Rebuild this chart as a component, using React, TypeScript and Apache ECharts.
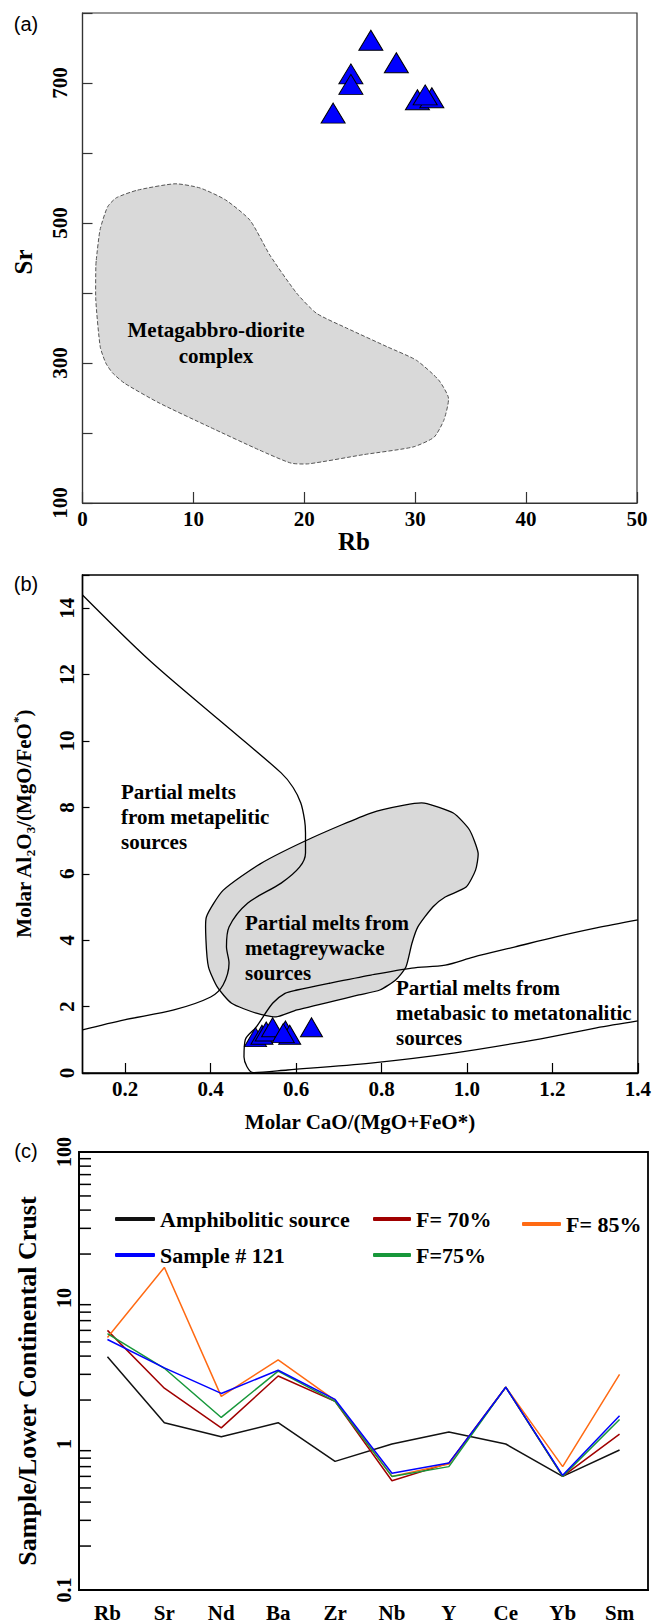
import React, { useEffect, useRef } from 'react';
import * as echarts from 'echarts';

const SERIF = '"Liberation Serif", "Times New Roman", serif';
const SANS = '"Liberation Sans", Arial, sans-serif';

// ---------- (a) Rb vs Sr ----------
const aSamples: [number, number][] = [
  [26.0, 761], [28.3, 729], [24.2, 713], [24.2, 698],
  [22.6, 657], [30.2, 676], [31.5, 679], [30.9, 683],
];
const aField: [number, number][] = [
  [1.24, 447], [1.58, 490], [2.26, 523], [3.05, 536], [4.97, 547], [8.35, 556],
  [10.6, 550], [12.9, 533], [15.1, 504], [16.9, 454], [19.3, 400], [21.1, 371],
  [23.8, 350], [27.5, 323], [30.1, 304], [32.1, 276], [33.0, 250], [32.6, 219],
  [31.7, 194], [29.8, 180], [25.3, 169], [20.4, 156], [18.8, 157], [15.9, 176],
  [11.4, 209], [6.9, 243], [3.8, 271], [2.7, 286], [2.1, 300], [1.6, 323],
  [1.2, 390], [1.2, 437],
];
const aYLabels = [100, 300, 500, 700];

// ---------- (b) CaO/(MgO+FeO*) vs Al2O3/(MgO+FeO*) ----------
const bSamples: [number, number][] = [
  [0.505, 1.08], [0.52, 1.15], [0.53, 1.25], [0.545, 1.38],
  [0.575, 1.28], [0.585, 1.15], [0.57, 1.2], [0.636, 1.38],
];
const bMetapelitic: [number, number][] = [
  [0.1, 14.4], [0.256, 12.44], [0.42, 10.63], [0.565, 9.04], [0.593, 8.6],
  [0.611, 8.13], [0.62, 7.6], [0.622, 7.23], [0.622, 6.63], [0.608, 6.2],
  [0.565, 5.72], [0.487, 5.12], [0.443, 4.4], [0.437, 3.8], [0.443, 3.31],
  [0.429, 2.65], [0.4, 2.29], [0.314, 1.9], [0.198, 1.6], [0.1, 1.3],
];
const bGreywacke: [number, number][] = [
  [0.9, 8.13], [0.968, 7.83], [1.006, 7.32], [1.026, 6.63], [1.02, 6.11],
  [0.998, 5.6], [0.949, 5.3], [0.92, 5.0], [0.885, 4.4], [0.871, 3.9],
  [0.857, 3.19], [0.833, 2.8], [0.796, 2.5], [0.747, 2.35], [0.602, 1.9],
  [0.553, 1.69], [0.507, 1.8], [0.449, 2.1], [0.415, 2.6], [0.395, 3.19],
  [0.389, 4.0], [0.39, 4.7], [0.429, 5.5], [0.516, 6.3], [0.64, 7.1],
  [0.775, 7.83], [0.853, 8.07],
];
const bMetabasic: [number, number][] = [
  [1.4, 4.61], [1.303, 4.37], [1.208, 4.1], [1.113, 3.8], [1.015, 3.49],
  [0.949, 3.25], [0.871, 3.16], [0.775, 2.95], [0.68, 2.71], [0.602, 2.5],
  [0.574, 2.4], [0.545, 2.1], [0.507, 1.39], [0.481, 1.0], [0.478, 0.48],
  [0.5, 0.01], [0.58, 0.09], [0.775, 0.3], [0.968, 0.6], [1.159, 1.0],
  [1.303, 1.36], [1.4, 1.57],
];
const bXTicks = [0.2, 0.4, 0.6, 0.8, 1.0, 1.2, 1.4];

// ---------- (c) spider diagram ----------
const elements = ['Rb', 'Sr', 'Nd', 'Ba', 'Zr', 'Nb', 'Y', 'Ce', 'Yb', 'Sm'];
const amphibolitic = [3.96, 1.4, 1.12, 1.4, 0.76, 1.0, 1.21, 1.0, 0.6, 0.91];
const sample121 = [5.2, 3.32, 2.22, 3.2, 2.02, 0.63, 0.74, 2.45, 0.61, 1.56];
const f70 = [6.0, 2.41, 1.29, 2.92, 1.96, 0.56, 0.74, 2.45, 0.6, 1.17];
const f75 = [5.7, 3.3, 1.52, 3.16, 1.96, 0.6, 0.7, 2.45, 0.6, 1.47];
const f85 = [5.36, 16.2, 2.12, 3.77, 1.99, 0.6, 0.73, 2.45, 0.7, 3.0];
const logMinorTicks = [
  0.2, 0.3, 0.4, 0.5, 0.6, 0.7, 0.8, 0.9,
  2, 3, 4, 5, 6, 7, 8, 9,
  20, 30, 40, 50, 60, 70, 80, 90,
];

const labelStyle = (size: number) => ({
  fontFamily: SERIF,
  fontWeight: 'bold' as const,
  fontSize: size,
  color: '#000',
});

function polygonRenderer(points: [number, number][], style: any) {
  return (params: any, api: any) => {
    if (params.dataIndex !== 0) return null;
    const pts = points.map((p) => api.coord(p));
    return { type: 'polygon', shape: { points: pts, smooth: 0.2 }, style };
  };
}

export default function App() {
  const ref = useRef<HTMLDivElement>(null);

  useEffect(() => {
    if (!ref.current) return;
    const chart = echarts.init(ref.current, undefined, { renderer: 'svg' });

    const axisLineA = { show: true, lineStyle: { color: '#333', width: 1.2 } };
    const axisLineB = { show: true, lineStyle: { color: '#000', width: 1.4 } };
    const axisLineC = { show: true, lineStyle: { color: '#000', width: 1.8 } };

    const txt = (x: number, y: number, text: string, font: string, extra: any = {}, rotation = 0) => ({
      type: 'text', x, y, rotation, z: 100, zlevel: 0,
      style: { text, font, fill: '#000', align: 'center', verticalAlign: 'middle', ...extra },
    });

    const option: any = {
      animation: false,
      backgroundColor: '#fff',
      textStyle: { fontFamily: SERIF },
      grid: [
        { left: 82.5, top: 13, width: 554.5, height: 490, show: true, borderColor: '#333', borderWidth: 1.2, containLabel: false },
        { left: 82.5, top: 575, width: 563.5, height: 498, show: true, borderColor: '#000', borderWidth: 1.4, containLabel: false },
        { left: 79, top: 1152, width: 569, height: 438, show: true, borderColor: '#000', borderWidth: 1.8, containLabel: false },
      ],
      xAxis: [
        {
          gridIndex: 0, type: 'value', min: 0, max: 50, interval: 10,
          axisLine: axisLineA,
          axisTick: { inside: true, length: 11, lineStyle: { color: '#333', width: 1.2 } },
          axisLabel: { ...labelStyle(21), margin: 5 },
          splitLine: { show: false },
        },
        {
          gridIndex: 1, type: 'value', min: 0.1, max: 1.4,
          axisLine: axisLineB,
          axisTick: { inside: true, length: 10, customValues: bXTicks, lineStyle: { color: '#000', width: 1.2 } },
          axisLabel: { ...labelStyle(21), margin: 5, customValues: bXTicks, formatter: (v: number) => v.toFixed(1) },
          splitLine: { show: false },
        },
        {
          gridIndex: 2, type: 'category', data: elements, boundaryGap: true,
          axisLine: axisLineC,
          axisTick: { inside: true, length: 12, alignWithLabel: true, lineStyle: { color: '#000', width: 1.5 } },
          axisLabel: { ...labelStyle(21), margin: 12 },
          splitLine: { show: false },
        },
      ],
      yAxis: [
        {
          gridIndex: 0, type: 'value', min: 100, max: 800, interval: 100,
          axisLine: axisLineA,
          axisTick: { inside: true, length: 10, lineStyle: { color: '#333', width: 1.2 } },
          axisLabel: {
            ...labelStyle(21), rotate: 90, margin: 12,
            formatter: (v: number) => (aYLabels.includes(v) ? String(v) : ''),
          },
          splitLine: { show: false },
        },
        {
          gridIndex: 1, type: 'value', min: 0, max: 15, interval: 2,
          axisLine: axisLineB,
          axisTick: { inside: true, length: 7, lineStyle: { color: '#000', width: 1.2 } },
          axisLabel: {
            ...labelStyle(21), rotate: 90, margin: 5,
            formatter: (v: number) => (v > 14 ? '' : String(v)),
          },
          splitLine: { show: false },
        },
        {
          gridIndex: 2, type: 'log', logBase: 10, min: 0.1, max: 100,
          axisLine: axisLineC,
          axisTick: { inside: true, length: 20, lineStyle: { color: '#000', width: 1.5 } },
          axisLabel: {
            ...labelStyle(20), rotate: 90, margin: 5,
            formatter: (v: number) => String(v),
          },
          splitLine: { show: false },
        },
      ],
      legend: [
        {
          left: 110, top: 1203, orient: 'vertical', itemWidth: 40, itemHeight: 4,
          itemGap: 14, itemTextGap: 12, icon: 'roundRect', selectedMode: false,
          textStyle: { ...labelStyle(22) },
          data: ['Amphibolitic source', 'Sample # 121'],
        },
        {
          left: 368, top: 1203, orient: 'vertical', itemWidth: 38, itemHeight: 4,
          itemGap: 14, itemTextGap: 10, icon: 'roundRect', selectedMode: false,
          textStyle: { ...labelStyle(22) },
          data: ['F= 70%', 'F=75%'],
        },
        {
          left: 517, top: 1208, orient: 'vertical', itemWidth: 39, itemHeight: 4,
          itemGap: 14, itemTextGap: 8, icon: 'roundRect', selectedMode: false,
          textStyle: { ...labelStyle(22) },
          data: ['F= 85%'],
        },
      ],
      series: [
        // (a)
        {
          type: 'custom', name: 'Metagabbro-diorite complex field', xAxisIndex: 0, yAxisIndex: 0,
          data: aField, silent: true, z: 1,
          renderItem: polygonRenderer(aField, { fill: '#d9d9d9', stroke: '#555', lineWidth: 1, lineDash: [4, 2] }),
        },
        {
          type: 'scatter', name: 'Samples (a)', xAxisIndex: 0, yAxisIndex: 0, data: aSamples,
          symbol: 'triangle', symbolSize: [24, 20], z: 5,
          itemStyle: { color: '#0000ff', borderColor: '#000', borderWidth: 1, opacity: 1 },
        },
        // (b)
        {
          type: 'custom', name: 'Metagreywacke field', xAxisIndex: 1, yAxisIndex: 1,
          data: bGreywacke, silent: true, z: 1,
          renderItem: polygonRenderer(bGreywacke, { fill: '#d9d9d9', stroke: '#000', lineWidth: 1.3 }),
        },
        {
          type: 'line', name: 'Metapelitic boundary', xAxisIndex: 1, yAxisIndex: 1, data: bMetapelitic,
          showSymbol: false, smooth: 0.3, lineStyle: { color: '#000', width: 1.3 }, silent: true, z: 2,
        },
        {
          type: 'line', name: 'Metabasic boundary', xAxisIndex: 1, yAxisIndex: 1, data: bMetabasic,
          showSymbol: false, smooth: 0.3, lineStyle: { color: '#000', width: 1.3 }, silent: true, z: 2,
        },
        {
          type: 'scatter', name: 'Samples (b)', xAxisIndex: 1, yAxisIndex: 1, data: bSamples,
          symbol: 'triangle', symbolSize: [22, 19], z: 5,
          itemStyle: { color: '#0000ff', borderColor: '#000', borderWidth: 1, opacity: 1 },
        },
        // (c)
        {
          type: 'custom', name: 'minor ticks', xAxisIndex: 2, yAxisIndex: 2, silent: true,
          data: logMinorTicks.map((v) => [0, v]),
          renderItem: (params: any, api: any) => {
            const cs = params.coordSys;
            const y = api.coord([0, api.value(1)])[1];
            return {
              type: 'line',
              shape: { x1: cs.x, y1: y, x2: cs.x + 12, y2: y },
              style: { stroke: '#000', lineWidth: 1.5 },
            };
          },
        },
        {
          type: 'line', name: 'Amphibolitic source', xAxisIndex: 2, yAxisIndex: 2, data: amphibolitic,
          showSymbol: false, color: '#111', lineStyle: { color: '#111', width: 1.5 },
        },
        {
          type: 'line', name: 'F= 70%', xAxisIndex: 2, yAxisIndex: 2, data: f70,
          showSymbol: false, color: '#a00000', lineStyle: { color: '#a00000', width: 1.5 },
        },
        {
          type: 'line', name: 'F= 85%', xAxisIndex: 2, yAxisIndex: 2, data: f85,
          showSymbol: false, color: '#ff6a13', lineStyle: { color: '#ff6a13', width: 1.5 },
        },
        {
          type: 'line', name: 'F=75%', xAxisIndex: 2, yAxisIndex: 2, data: f75,
          showSymbol: false, color: '#17973a', lineStyle: { color: '#17973a', width: 1.5 },
        },
        {
          type: 'line', name: 'Sample # 121', xAxisIndex: 2, yAxisIndex: 2, data: sample121,
          showSymbol: false, color: '#0000ff', lineStyle: { color: '#0000ff', width: 1.5 },
        },
      ],
      graphic: [
        // panel tags
        txt(26, 24, '(a)', `20px ${SANS}`),
        txt(26, 584, '(b)', `20px ${SANS}`),
        txt(26, 1151, '(c)', `20px ${SANS}`),
        // (a) axis names
        txt(23, 262, 'Sr', `bold 25px ${SERIF}`, {}, Math.PI / 2),
        txt(354, 541, 'Rb', `bold 25px ${SERIF}`),
        // (a) field label
        txt(216, 343, 'Metagabbro-diorite\ncomplex', `bold 21px ${SERIF}`, { lineHeight: 26 }),
        // (b) axis names
        {
          type: 'text', x: 24, y: 824, rotation: Math.PI / 2, z: 100,
          style: {
            text: '{n|Molar Al}{s|2}{n|O}{s|3}{n|/(MgO/FeO}{p|*}{n|)}',
            align: 'center', verticalAlign: 'middle', fill: '#000',
            rich: {
              n: { fontFamily: SERIF, fontWeight: 'bold', fontSize: 21, lineHeight: 26, fill: '#000' },
              s: { fontFamily: SERIF, fontWeight: 'bold', fontSize: 13, lineHeight: 13, verticalAlign: 'bottom', fill: '#000' },
              p: { fontFamily: SERIF, fontWeight: 'bold', fontSize: 13, lineHeight: 13, verticalAlign: 'top', fill: '#000' },
            },
          },
        },
        txt(360, 1122, 'Molar CaO/(MgO+FeO*)', `bold 21px ${SERIF}`),
        // (b) field labels
        txt(121, 779, 'Partial melts\nfrom metapelitic\nsources', `bold 21px ${SERIF}`, { lineHeight: 25, align: 'left', verticalAlign: 'top' }),
        txt(245, 910, 'Partial melts from\nmetagreywacke\nsources', `bold 21px ${SERIF}`, { lineHeight: 25, align: 'left', verticalAlign: 'top' }),
        txt(396, 975, 'Partial melts from\nmetabasic to metatonalitic\nsources', `bold 21px ${SERIF}`, { lineHeight: 25, align: 'left', verticalAlign: 'top' }),
        // (c) axis name
        txt(27, 1381, 'Sample/Lower Continental Crust', `bold 26px ${SERIF}`, {}, Math.PI / 2),
      ],
    };

    chart.setOption(option);
    return () => chart.dispose();
  }, []);

  return (
    <div
      ref={ref}
      style={{ position: 'absolute', left: 0, top: 0, width: 654, height: 1623, background: '#fff' }}
    />
  );
}
